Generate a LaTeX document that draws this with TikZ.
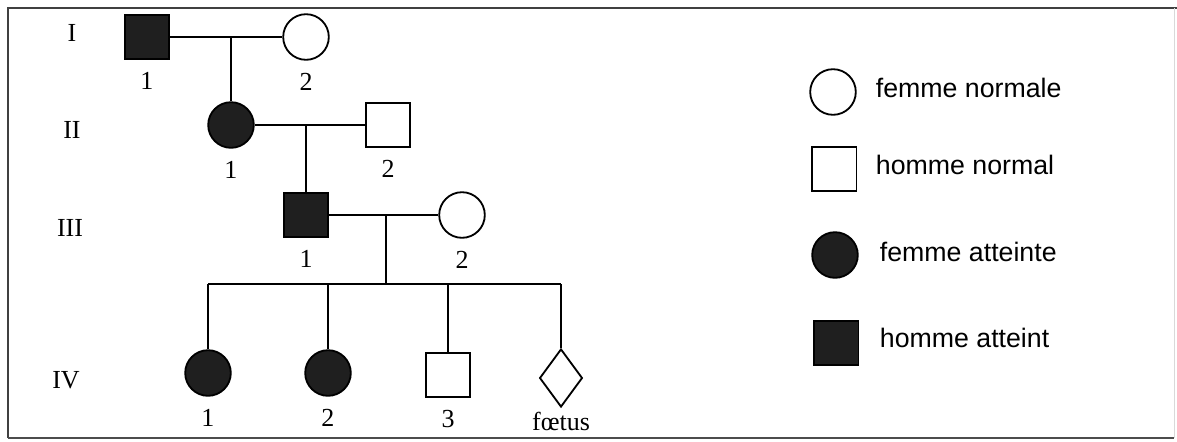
\documentclass[tikz,border=0pt]{standalone}
\usepackage{fontspec}
\setmainfont{Liberation Serif}
\newfontfamily\legendfont{Liberation Sans}
\usetikzlibrary{positioning,shapes.geometric}

\begin{document}
\begin{tikzpicture}[x=0.025cm,y=-0.025cm,line width=1.3pt,
  every node/.style={font=\fontsize{18.5}{20}\selectfont},
  femme/.style={draw,circle,minimum size=1.14cm,inner sep=0pt},
  homme/.style={draw,rectangle,minimum size=1.12cm,inner sep=0pt},
  foetus/.style={draw,diamond,minimum width=1.07cm,minimum height=1.45cm,inner sep=0pt},
  atteint/.style={fill=black!88},
  numero/.style={inner sep=0pt},
  legende/.style={anchor=west,inner sep=0pt,font=\legendfont\fontsize{19}{21}\selectfont}]
\useasboundingbox (0,0) rectangle (1177,441);

% cadre
\draw[line width=1pt,black!75] (8,438) -- (8,8) -- (1177,8);
\draw[line width=0.8pt,black!70] (8,438) -- (1174,438);
\draw[line width=0.6pt,black!15] (1174,8) -- (1174,438);

% generations
\node (gI) at (72,33) {I};
\node (gII) at (72,130) {II};
\node (gIII) at (70,228) {III};
\node (gIV) at (66,380) {IV};

% generation I
\node[homme,atteint] (i1) at (147,37) {};
\node[femme] (i2) at (306,37) {};
\node[numero,below=0.28cm of i1] (i1n) {1};
\node[numero,below=0.28cm of i2] (i2n) {2};
\coordinate (m1) at (231,37);
\draw (i1) -- (i2);

% generation II
\node[femme,atteint] (ii1) at (231,125) {};
\node[homme] (ii2) at (388,125) {};
\node[numero,below=0.28cm of ii1] (ii1n) {1};
\node[numero,below=0.28cm of ii2] (ii2n) {2};
\coordinate (m2) at (306,125);
\draw (m1) -- (ii1);
\draw (ii1) -- (ii2);

% generation III
\node[homme,atteint] (iii1) at (306,215) {};
\node[femme] (iii2) at (462,215) {};
\node[numero,below=0.28cm of iii1] (iii1n) {1};
\node[numero,below=0.28cm of iii2] (iii2n) {2};
\coordinate (m3) at (386,215);
\coordinate (s) at (386,284);
\draw (m2) -- (iii1);
\draw (iii1) -- (iii2);
\draw (m3) -- (s);

% generation IV
\node[femme,atteint] (iv1) at (208,373) {};
\node[femme,atteint] (iv2) at (328,373) {};
\node[homme] (iv3) at (448,375) {};
\node[foetus] (iv4) at (561,378) {};
\node[numero,below=0.28cm of iv1] (iv1n) {1};
\node[numero,below=0.28cm of iv2] (iv2n) {2};
\node[numero,below=0.28cm of iv3] (iv3n) {3};
\node[numero,below=0.08cm of iv4] (iv4n) {f\oe tus};
\draw (iv1 |- s) -- (iv4 |- s);
\draw (iv1 |- s) -- (iv1);
\draw (iv2 |- s) -- (iv2);
\draw (iv3 |- s) -- (iv3);
\draw (iv4 |- s) -- (iv4);

% legende
\node[femme] (lfn) at (833,92) {};
\node[homme] (lhn) at (834,169) {};
\node[femme,atteint] (lfa) at (835,255) {};
\node[homme,atteint] (lha) at (836,343) {};
\node[legende] (lfnt) at (875,88) {femme normale};
\node[legende] (lhnt) at (875,165) {homme normal};
\node[legende] (lfat) at (879,252) {femme atteinte};
\node[legende] (lhat) at (879,338) {homme atteint};

\end{tikzpicture}
\end{document}
